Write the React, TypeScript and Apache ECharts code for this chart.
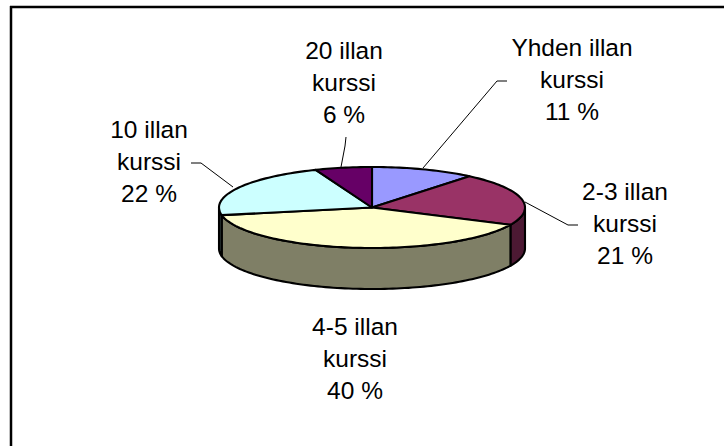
import React, { useEffect, useRef } from "react";
import * as echarts from "echarts";

const categories = ["Yhden illan\nkurssi", "2-3 illan\nkurssi", "4-5 illan\nkurssi", "10 illan\nkurssi", "20 illan\nkurssi"];
const shares = [11, 21, 40, 22, 6];
const topColors = ["#9999FF", "#993366", "#FFFFCC", "#CCFFFF", "#660066"];
const sideColors = ["#4C4C7F", "#4C1933", "#7F7F66", "#334040", "#330033"];

// layout of the tilted pie
const CX = 372, CY = 207.5, RX = 153, RY = 40.5, DEPTH = 41;
const labelCenters = [[572, 79], [625, 223], [355, 358], [149, 161], [344, 82]];
const leaders = [
  [[423, 168], [497, 81], [507, 81]],
  [[525, 202], [568, 225], [578, 225]],
  [],
  [[233, 187], [201, 163], [191, 163]],
  [[341, 167], [345, 146], [346, 137]],
];

const total = shares.reduce((a, b) => a + b, 0);
const starts = shares.map((_, i) => shares.slice(0, i).reduce((a, b) => a + b, 0) / total * 360);
const pt = (deg: number, dy = 0) => {
  const r = deg * Math.PI / 180;
  return [CX + RX * Math.sin(r), CY - RY * Math.cos(r) + dy];
};
const arc = (a: number, b: number, dy = 0) => {
  const out: number[][] = [];
  const n = Math.max(1, Math.ceil((b - a) / 1.5));
  for (let i = 0; i <= n; i++) out.push(pt(a + (b - a) * i / n, dy));
  return out;
};

const renderTop = (params: any, api: any) => {
  const i = params.dataIndex;
  const a = starts[i];
  const b = a + api.value(0) / total * 360;
  return {
    type: "polygon",
    shape: { points: [[CX, CY], ...arc(a, b)] },
    style: { fill: topColors[i], stroke: "#000", lineWidth: 2.1, lineJoin: "round" },
  };
};

const renderSide = (params: any, api: any) => {
  const i = params.dataIndex;
  const a = Math.max(starts[i], 90);
  const b = Math.min(starts[i] + api.value(0) / total * 360, 270);
  if (b <= a) return null;
  return {
    type: "polygon",
    shape: { points: [...arc(a, b), ...arc(a, b, DEPTH).reverse()] },
    style: { fill: sideColors[i], stroke: "#000", lineWidth: 2.1, lineJoin: "round" },
  };
};

export default function App() {
  const ref = useRef<HTMLDivElement>(null);
  useEffect(() => {
    const chart = echarts.init(ref.current!, undefined, { renderer: "svg" });
    const labelEls = categories.map((c, i) => ({
      type: "text",
      x: labelCenters[i][0],
      y: labelCenters[i][1],
      style: {
        text: `${c}\n${shares[i]} %`,
        fill: "#000",
        font: '24.5px "Liberation Sans", Arial, sans-serif',
        lineHeight: 32,
        align: "center",
        verticalAlign: "middle",
      },
    }));
    const leaderEls = leaders.filter((l) => l.length).map((l) => ({
      type: "polyline",
      shape: { points: l },
      style: { stroke: "#000", lineWidth: 1, fill: "none" },
    }));
    chart.setOption({
      animation: false,
      backgroundColor: "#fff",
      series: [
        { type: "custom", coordinateSystem: "none", silent: true, data: shares, renderItem: renderSide, z: 1 },
        { type: "custom", coordinateSystem: "none", silent: true, data: shares, renderItem: renderTop, z: 2 },
      ],
      graphic: [
        { type: "line", shape: { x1: 10, y1: 7, x2: 724, y2: 7 }, style: { stroke: "#000", lineWidth: 2.5 } },
        { type: "line", shape: { x1: 11, y1: 6, x2: 11, y2: 446 }, style: { stroke: "#000", lineWidth: 2.5 } },
        ...leaderEls,
        ...labelEls,
      ],
    });
    return () => chart.dispose();
  }, []);
  return <div ref={ref} style={{ position: "fixed", left: 0, top: 0, width: 724, height: 446 }} />;
}
